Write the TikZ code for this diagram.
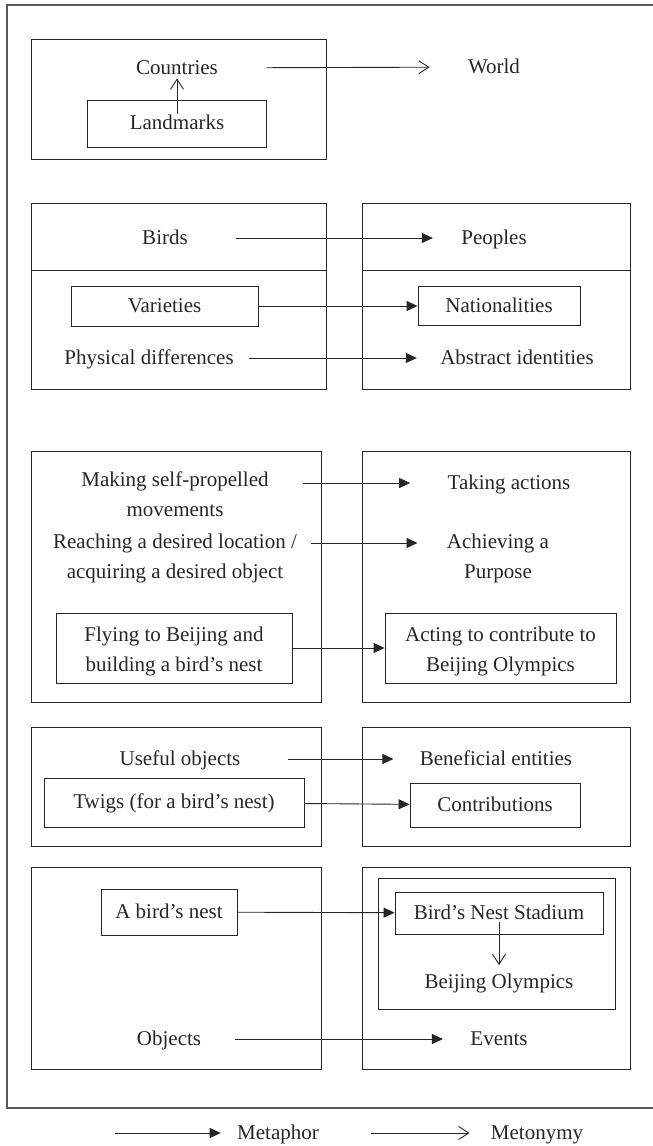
\documentclass[tikz,border=0pt]{standalone}
\usepackage{fontspec}
\setmainfont{Liberation Serif}
\usetikzlibrary{arrows.meta,calc}
\tikzset{
  lbl/.style={inner sep=0pt, text height=14.5pt, text depth=2.5pt},
  lbltwo/.style={inner sep=0pt, align=center},
  bx/.style={draw, inner sep=0pt, align=center},
  metaphor/.style={-{Triangle[length=11pt,width=10pt]}},
  metonymy/.style={-{Straight Barb[length=10pt,width=13pt]}},
  outerframe/.style={line width=1.8pt, black!65}
}
\begin{document}
\begin{tikzpicture}[x=1pt, y=-1pt, line width=0.9pt, color=black!85, font=\fontsize{21}{30}\selectfont]
\useasboundingbox (0,0) rectangle (653,1146);
\draw[outerframe] (653,5) -- (7,5) -- (7,1108) -- (653,1108);
\draw (31,39) rectangle (326,159);
\node[lbl] (countries) at (177,68) {Countries};
\node[bx, lbl, minimum width=179.5pt, minimum height=47pt] (landmarks) at (177,123.5) {Landmarks};
\node[lbl] (world) at (494,67) {World};
\draw[metonymy, shorten <=9.5pt, shorten >=1.5pt] (landmarks.center) -- (countries);
\draw[metonymy, shorten <=48pt, shorten >=38pt] (countries) -- (world);
\draw (31,203) rectangle (326,389);
\draw (31,270) -- (326,270);
\draw (362,203) rectangle (630,389);
\draw (362,270) -- (630,270);
\node[lbl] (birds) at (165,238) {Birds};
\node[lbl] (peoples) at (494,238) {Peoples};
\draw[metaphor, shorten <=48pt, shorten >=28pt] (birds) -- (peoples);
\node[bx, lbl, minimum width=187pt, minimum height=40pt] (varieties) at (164.5,306) {Varieties};
\node[bx, lbl, minimum width=162pt, minimum height=39pt] (nationalities) at (499,306) {Nationalities};
\draw[metaphor] (varieties) -- (nationalities);
\node[lbl] (physical) at (149,358) {Physical differences};
\node[lbl] (abstract) at (517,358) {Abstract identities};
\draw[metaphor, shorten <=15pt, shorten >=23pt] (physical) -- (abstract);
\draw (31,451) rectangle (321,702);
\draw (362,451) rectangle (630,702);
\node[lbltwo] (making) at (175,494) {Making self-propelled\\movements};
\node[lbl] (taking) at (509,483) {Taking actions};
\draw[metaphor, shorten <=34pt, shorten >=37pt] (making.east |- taking) -- (taking);
\node[lbltwo] (reaching) at (175,558) {Reaching a desired location /\\acquiring a desired object};
\node[lbltwo] (achieving) at (498,558) {Achieving a\\Purpose};
\draw[metaphor, shorten <=14pt, shorten >=29pt] ([yshift=15pt]reaching.east) -- ([yshift=15pt]achieving.west);
\node[bx, minimum width=236pt, minimum height=70pt] (flying) at (174,648) {\rule{0pt}{22pt}Flying to Beijing and\\building a bird's nest};
\node[bx, minimum width=231pt, minimum height=70pt] (acting) at (500.5,648) {\rule{0pt}{22pt}Acting to contribute to\\Beijing Olympics};
\draw[metaphor] (flying) -- (acting);
\draw (31,727) rectangle (321,846);
\draw (362,727) rectangle (630,846);
\node[lbl] (useful) at (180,759) {Useful objects};
\node[lbl] (beneficial) at (496,759) {Beneficial entities};
\draw[metaphor, shorten <=47pt, shorten >=26pt] (useful) -- (beneficial);
\node[bx, lbl, minimum width=260pt, minimum height=49pt] (twigs) at (174,802.5) {Twigs (for a bird's nest)};
\node[bx, lbl, minimum width=170pt, minimum height=44pt] (contributions) at (495,805) {Contributions};
\draw[metaphor] (twigs) -- (contributions);
\draw (31,867) rectangle (321,1069);
\draw (362,867) rectangle (630,1069);
\draw (378,878) rectangle (615,1009);
\node[bx, lbl, minimum width=136pt, minimum height=46pt] (nest) at (169,912) {A bird's nest};
\node[bx, lbl, minimum width=208pt, minimum height=42pt] (stadium) at (499,913) {Bird's Nest Stadium};
\draw[metaphor] (nest) -- (stadium);
\node[lbl] (olympics) at (499,982) {Beijing Olympics};
\draw[metonymy, shorten <=9pt, shorten >=8pt] (stadium.center) -- (olympics);
\node[lbl] (objects) at (169,1039) {Objects};
\node[lbl] (events) at (499,1039) {Events};
\draw[metaphor, shorten <=33pt, shorten >=27pt] (objects) -- (events);
\coordinate (keymeta) at (115,1133);
\node[lbl] (metaphorkey) at (278,1133) {Metaphor};
\draw[metaphor, shorten >=16pt] (keymeta) -- (metaphorkey);
\coordinate (keymeto) at (371,1133);
\node[lbl] (metonymykey) at (537,1133) {Metonymy};
\draw[metonymy, shorten >=21pt] (keymeto) -- (metonymykey);
\end{tikzpicture}
\end{document}
